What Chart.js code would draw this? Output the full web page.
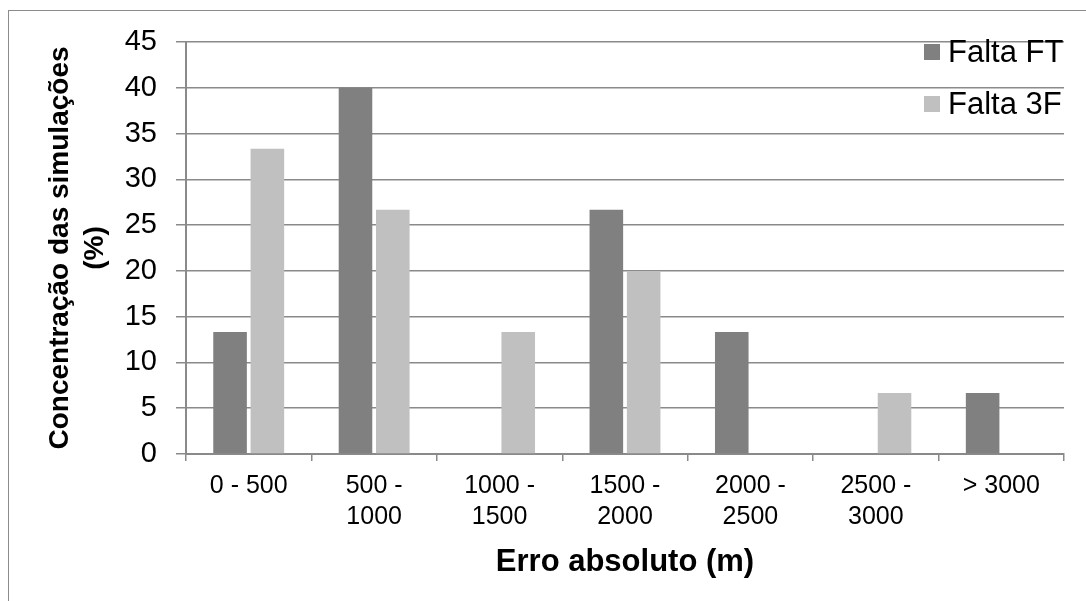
<!DOCTYPE html>
<html lang="pt">
<head>
<meta charset="utf-8">
<title>Erro absoluto</title>
<script src="https://cdn.jsdelivr.net/npm/chart.js@4.4.1/dist/chart.umd.min.js"></script>
<style>
  html, body { margin: 0; padding: 0; background: #ffffff; overflow: hidden; }
  #frame {
    position: absolute; left: 8px; top: 10px;
    width: 1300px; height: 800px;
    border: 1.5px solid #8c8c8c;
  }
  #wrap { position: absolute; left: 0; top: 0; width: 1086px; height: 601px; }
</style>
</head>
<body>
<div id="frame"></div>
<div id="wrap"><canvas id="chart" width="1086" height="601"></canvas></div>
<script>
// Error ranges (m) and share of simulations (%) per fault type
const categories = [
  '0 - 500',
  ['500 -', '1000'],
  ['1000 -', '1500'],
  ['1500 -', '2000'],
  ['2000 -', '2500'],
  ['2500 -', '3000'],
  '> 3000'
];
const seriesNames = ['Falta FT', 'Falta 3F'];
const faltaFT = [13.33, 40, 0, 26.67, 13.33, 0, 6.67];
const falta3F = [33.33, 26.67, 13.33, 20, 0, 6.67, 0];
const yTicks = [0, 5, 10, 15, 20, 25, 30, 35, 40, 45];

const FONT = "'Liberation Sans', Arial, Helvetica, sans-serif";
const GRID = '#8a8a8a';

// Legend drawn over the top-right corner of the plot area
const cornerLegend = {
  id: 'cornerLegend',
  afterDraw(chart) {
    const { ctx, chartArea } = chart;
    const box = 16, rowGap = 52;
    const x0 = chartArea.right - 140;
    let yc = chartArea.top + 10;
    ctx.save();
    ctx.font = '31px ' + FONT;
    ctx.textBaseline = 'middle';
    ctx.textAlign = 'left';
    chart.data.datasets.forEach(ds => {
      ctx.fillStyle = ds.backgroundColor;
      ctx.fillRect(x0, yc - box / 2, box, box);
      ctx.fillStyle = '#000000';
      ctx.fillText(ds.label, x0 + box + 8, yc + 1);
      yc += rowGap;
    });
    ctx.restore();
  }
};

new Chart(document.getElementById('chart'), {
  type: 'bar',
  data: {
    labels: categories,
    datasets: [
      { label: seriesNames[0], data: faltaFT, backgroundColor: '#808080', borderWidth: 0 },
      { label: seriesNames[1], data: falta3F, backgroundColor: '#c0c0c0', borderWidth: 0 }
    ]
  },
  options: {
    responsive: false,
    animation: false,
    devicePixelRatio: 1,
    categoryPercentage: 0.595,
    barPercentage: 0.9,
    layout: { padding: { top: 42, right: 22, left: 0, bottom: 0 } },
    plugins: {
      legend: { display: false },
      tooltip: { enabled: false }
    },
    scales: {
      x: {
        grid: {
          display: true, drawOnChartArea: false, drawTicks: true,
          tickLength: 7, color: GRID, lineWidth: 1.5, offset: true
        },
        border: { display: true, color: GRID, width: 2 },
        ticks: {
          color: '#000000', padding: 10, maxRotation: 0, autoSkip: false,
          font: { family: FONT, size: 25, lineHeight: 1.24 }
        },
        title: {
          display: true, text: 'Erro absoluto (m)', color: '#000000',
          font: { family: FONT, size: 31, weight: 'bold' },
          padding: { top: 4, bottom: 20 }
        },
        afterFit(scale) { scale.height = 147; }
      },
      y: {
        min: 0, max: 45,
        afterBuildTicks(scale) { scale.ticks = yTicks.map(v => ({ value: v })); },
        grid: { color: GRID, lineWidth: 1.5, tickLength: 10, drawTicks: true },
        border: { display: true, color: GRID, width: 2 },
        ticks: {
          color: '#000000', padding: 19,
          font: { family: FONT, size: 29 }
        },
        title: {
          display: true,
          text: ['Concentração das simulações', '(%)'],
          color: '#000000',
          font: { family: FONT, size: 28, weight: 'bold', lineHeight: 1.25 },
          padding: { top: 43, bottom: 0 }
        },
        afterFit(scale) { scale.width = 186; }
      }
    }
  },
  plugins: [cornerLegend]
});
</script>
</body>
</html>
